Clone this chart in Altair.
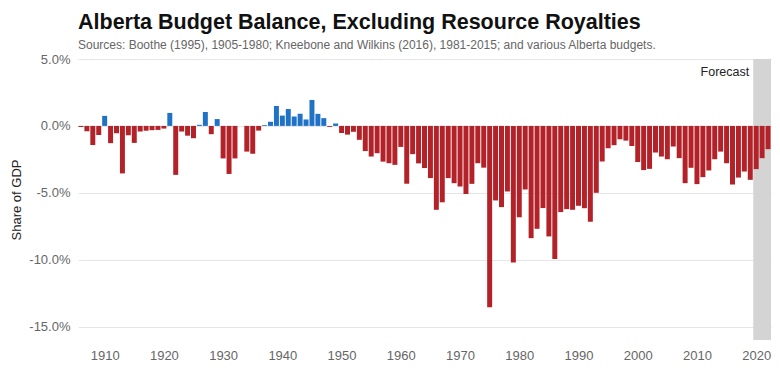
import altair as alt
import pandas as pd

FONT = "Liberation Sans"

years = list(range(1906, 2023))
balance = [
    -0.08, -0.40, -1.43, -0.68, 0.75, -1.29, -0.55, -3.55, -0.70, -1.27,   # 1906-1915
    -0.42, -0.36, -0.32, -0.30, -0.20, 0.97, -3.66, -0.42, -0.73, -0.92,    # 1916-1925
    0.08, 1.04, -0.62, 0.51, -2.43, -3.59, -2.43, 0.0, -1.92, -2.08,        # 1926-1935
    -0.35, 0.06, 0.31, 1.49, 0.77, 1.26, 0.70, 0.91, 0.48, 1.94,            # 1936-1945
    0.90, 0.58, -0.07, 0.18, -0.53, -0.65, -0.44, -1.04, -1.88, -2.29,      # 1946-1955
    -2.04, -2.67, -2.79, -2.91, -1.57, -4.32, -2.11, -2.80, -3.15, -3.90,   # 1956-1965
    -6.27, -5.71, -3.90, -4.28, -4.53, -5.09, -4.33, -2.79, -3.12, -13.56,  # 1966-1975
    -5.57, -6.07, -4.90, -10.20, -6.83, -4.75, -8.39, -7.69, -6.14, -8.26,  # 1976-1985
    -9.94, -6.44, -6.22, -6.27, -5.97, -6.15, -7.16, -5.00, -2.66, -1.67,   # 1986-1995
    -1.44, -1.00, -1.10, -1.50, -2.70, -3.30, -3.21, -1.99, -2.29, -2.49,   # 1996-2005
    -1.54, -2.41, -4.28, -3.13, -4.35, -3.83, -3.33, -2.49, -1.92, -2.79,   # 2006-2015
    -4.38, -3.86, -3.41, -4.03, -3.23, -2.41, -1.74,                        # 2016-2022
]
x_ticks = list(range(1910, 2030, 10))
y_ticks = [5, 0, -5, -10, -15]
forecast_start = 2019.5
forecast_end = 2022.5
forecast_label = "Forecast"

BLUE = "#1f72c6"
RED = "#b22228"

df = pd.DataFrame({"year": years, "balance": balance})

xscale = alt.Scale(domain=[1905.5, 2022.5], nice=False, zero=False)
yscale = alt.Scale(domain=[-16, 5], nice=False, zero=False)

x_axis = alt.Axis(
    values=x_ticks, format="d", title=None, grid=False, domain=False,
    ticks=False, labelPadding=9, labelFontSize=13, labelColor="#666666",
    labelFont=FONT,
)
y_axis = alt.Axis(
    values=y_ticks, title="Share of GDP", grid=True, gridColor="#e6e6e6",
    domain=False, ticks=False, labelPadding=8, labelFontSize=13,
    labelColor="#666666", labelFont=FONT,
    labelExpr="(datum.value < 0 ? '-' : '') + format(abs(datum.value), '.1f') + '%'",
    titleFont=FONT, titleFontSize=13, titleFontWeight="normal",
    titleColor="#222222", titlePadding=5,
)

band = alt.Chart(pd.DataFrame({"x0": [forecast_start], "x1": [forecast_end]})).mark_rect(
    color="#d4d4d4"
).encode(
    x=alt.X("x0:Q", scale=xscale, axis=x_axis),
    x2="x1:Q",
    y=alt.value(0),
    y2=alt.value(281),
)

bars = alt.Chart(df).transform_calculate(
    x0="datum.year - 0.42", x1="datum.year + 0.42"
).mark_bar().encode(
    x=alt.X("x0:Q", scale=xscale, axis=x_axis),
    x2="x1:Q",
    y=alt.Y("balance:Q", scale=yscale, axis=y_axis),
    y2=alt.datum(0),
    color=alt.condition("datum.balance > 0", alt.value(BLUE), alt.value(RED)),
)

fc = alt.Chart(
    pd.DataFrame({"x0": [forecast_start], "balance": [4.0], "label": [forecast_label]})
).mark_text(
    align="right", baseline="middle", dx=-4, fontSize=12.5, color="#222222", font=FONT
).encode(
    x=alt.X("x0:Q", scale=xscale, axis=x_axis),
    y=alt.Y("balance:Q", scale=yscale, axis=y_axis),
    text="label:N",
)

chart = alt.layer(band, bars, fc).properties(
    width=693,
    height=281,
    title=alt.TitleParams(
        text="Alberta Budget Balance, Excluding Resource Royalties",
        subtitle="Sources: Boothe (1995), 1905-1980; Kneebone and Wilkins (2016), 1981-2015; and various Alberta budgets.",
        anchor="start",
        frame="group",
        font=FONT,
        fontSize=21.5,
        fontWeight="bold",
        color="#111111",
        subtitleFont=FONT,
        subtitleFontSize=12,
        subtitleColor="#666666",
        subtitlePadding=7,
        offset=2,
    ),
    autosize=alt.AutoSizeParams(type="none"),
    padding={"left": 70, "top": 51, "right": 1, "bottom": 42},
).configure_view(stroke=None)

chart.save("out.html", embed_options={"renderer": "svg", "actions": False})
